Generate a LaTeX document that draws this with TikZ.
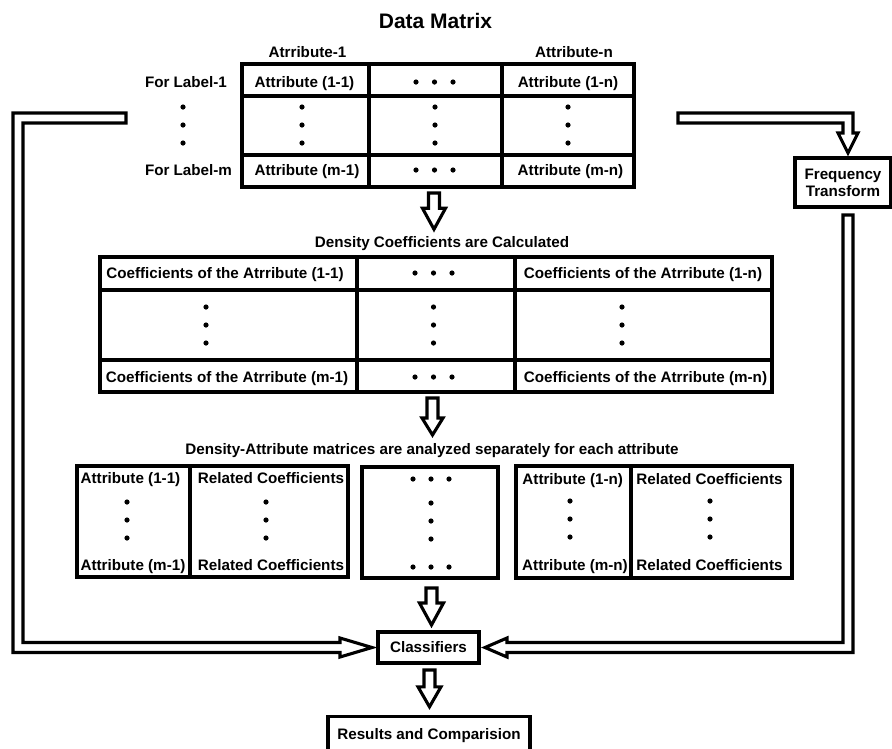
\documentclass[tikz,border=0pt]{standalone}
\usepackage{fontspec}
\setmainfont{Liberation Sans}
\usetikzlibrary{calc,fit}
\tikzset{
  cellbox/.style={draw, line width=3.3pt, inner sep=0pt, outer sep=0pt},
  boxnode/.style={draw, line width=3.3pt, inner sep=0pt, outer sep=0pt, align=center},
  txt/.style={anchor=base, inner sep=0pt, outer sep=0pt},
  blk/.style={draw, line width=3.1pt, line join=miter, fill=white},
  every node/.style={font=\bfseries\fontsize{15.2}{16.7}\selectfont, text=black}
}
\newcommand\mkcell[5]{\node[cellbox, fit={(#2,#3) (#4,#5)}] (#1) {};}
\newcommand\dotcol[4]{\foreach \yy in {#2,#3,#4} {\fill (#1,\yy) circle[radius=2.6pt];}}
\newcommand\dotrow[4]{\foreach \xx in {#2,#3,#4} {\fill (\xx,#1) circle[radius=2.6pt];}}
% #1 start, #2 tip, #3 head length, #4 head half width
\newcommand\downblock[4]{%
  \draw[blk] let \p1=(#1), \p2=(#2) in
   (\x1-5.5pt,\y1) -- (\x1+5.5pt,\y1) -- (\x1+5.5pt,\y2+#3pt) -- (\x1+#4pt,\y2+#3pt)
   -- (\x1,\y2) -- (\x1-#4pt,\y2+#3pt) -- (\x1-5.5pt,\y2+#3pt) -- cycle;}
\begin{document}
\begin{tikzpicture}[x=1pt,y=-1pt]
\useasboundingbox (0,0) rectangle (892,748);

% ---------- Data matrix ----------
\node[txt, font=\bfseries\fontsize{21}{24}\selectfont] (title) at (435.5,28.3) {Data Matrix};
\node[txt] (h1) at (307.5,57.3) {Atrribute-1};
\node[txt] (hn) at (574,57.3) {Attribute-n};
\node[txt, anchor=base west] (fl1) at (145,87.3) {For Label-1};
\node[txt, anchor=base west] (flm) at (145,175) {For Label-m};
\dotcol{183}{107}{125}{143}

\mkcell{dm11}{242}{64}{369}{96}
\mkcell{dm12}{369}{64}{502}{96}
\mkcell{dm13}{502}{64}{634}{96}
\mkcell{dm21}{242}{96}{369}{155}
\mkcell{dm22}{369}{96}{502}{155}
\mkcell{dm23}{502}{96}{634}{155}
\mkcell{dm31}{242}{155}{369}{187}
\mkcell{dm32}{369}{155}{502}{187}
\mkcell{dm33}{502}{155}{634}{187}

\node[txt] (a11) at (304.5,87.3) {Attribute (1-1)};
\node[txt] (a1n) at (568,87.3) {Attribute (1-n)};
\node[txt] (am1) at (307,175.5) {Attribute (m-1)};
\node[txt] (amn) at (570.5,175.5) {Attribute (m-n)};
\dotrow{82}{416}{434.5}{453}
\dotrow{170}{416}{434.5}{453}
\dotcol{302}{107}{125}{143}
\dotcol{435}{107}{125}{143}
\dotcol{568}{107}{125}{143}

% ---------- Coefficients ----------
\node[txt] (dct) at (442,247.3) {Density Coefficients are Calculated};
\mkcell{ct11}{100}{257}{357}{290}
\mkcell{ct12}{357}{257}{515}{290}
\mkcell{ct13}{515}{257}{772}{290}
\mkcell{ct21}{100}{290}{357}{360}
\mkcell{ct22}{357}{290}{515}{360}
\mkcell{ct23}{515}{290}{772}{360}
\mkcell{ct31}{100}{360}{357}{392}
\mkcell{ct32}{357}{360}{515}{392}
\mkcell{ct33}{515}{360}{772}{392}
\node[txt] (c11) at (225,278.3) {Coefficients of the Atrribute (1-1)};
\node[txt] (c1n) at (643,278.3) {Coefficients of the Atrribute (1-n)};
\node[txt] (cm1) at (227,382.7) {Coefficients of the Atrribute (m-1)};
\node[txt] (cmn) at (645.5,382.7) {Coefficients of the Atrribute (m-n)};
\dotrow{273}{415}{433.5}{452}
\dotrow{377}{415}{433.5}{452}
\dotcol{206}{307}{325}{343}
\dotcol{433.5}{307}{325}{343}
\dotcol{622}{307}{325}{343}

% ---------- Density-attribute matrices ----------
\node[txt] (dat) at (432,454) {Density-Attribute matrices are analyzed separately for each attribute};
\mkcell{dal1}{77}{466}{190}{577}
\mkcell{dal2}{190}{466}{348}{577}
\mkcell{dam}{362}{467}{498}{578}
\mkcell{dar1}{516}{466}{631}{578}
\mkcell{dar2}{631}{466}{792}{578}
\node[txt] (l11) at (130.5,483.3) {Attribute (1-1)};
\node[txt] (lm1) at (133,570) {Attribute (m-1)};
\node[txt] (lr1) at (271,483.3) {Related Coefficients};
\node[txt] (lr2) at (271,570) {Related Coefficients};
\node[txt] (r1n) at (572.7,484) {Attribute (1-n)};
\node[txt] (rmn) at (575,570.5) {Attribute (m-n)};
\node[txt] (rr1) at (709.5,484) {Related Coefficients};
\node[txt] (rr2) at (709.5,570.5) {Related Coefficients};
\dotcol{127}{502}{520}{538}
\dotcol{266}{502}{520}{538}
\dotcol{570}{501}{519}{537}
\dotcol{710}{501}{519}{537}
\dotrow{479}{413}{431}{449}
\dotcol{431}{503}{521}{539}
\dotrow{567}{413}{431}{449}

% ---------- Boxes ----------
\node[boxnode, minimum width=96pt, minimum height=49pt] (ft) at (843,182.5) {Frequency\\Transform};
\node[boxnode, minimum width=101pt, minimum height=31pt] (cls) at (428.5,647.5) {Classifiers};
\node[boxnode, minimum width=202pt, minimum height=34pt, text depth=0pt] (res) at (429,733.8) {Results and Comparision};

% ---------- Down block arrows ----------
\downblock{$(dm32.south)+(-1.5,6)$}{$(dct.north)+(0,-7)$}{21}{11.5}
\downblock{$(ct32.south)+(-3.5,6)$}{$(dat.north)+(0,-8)$}{17}{10.5}
\downblock{$(dam.south)+(1.5,10)$}{$(cls.north)+(0,-7)$}{22}{12}
\downblock{$(cls.south)+(1,7)$}{$(res.north)+(0,-10)$}{20}{11.5}

% ---------- Left channel to classifiers ----------
\coordinate (ls) at (126,118);
\coordinate (lb) at (18,118);
\coordinate (lc) at (lb |- cls.west);
\coordinate (ltip) at ($(cls.west)+(-6,0)$);
\draw[blk] ($(ls)+(0,-5)$) -- ($(lb)+(-5,-5)$) -- ($(lc)+(-5,5)$) -- ($(ltip)+(-32,5)$)
  -- ($(ltip)+(-32,9.5)$) -- (ltip) -- ($(ltip)+(-32,-9.5)$) -- ($(ltip)+(-32,-5)$)
  -- ($(lc)+(5,-5)$) -- ($(lb)+(5,5)$) -- ($(ls)+(0,5)$) -- cycle;

% ---------- Right channel: frequency transform to classifiers ----------
\coordinate (rs) at ($(ft.south)+(5,8)$);
\coordinate (rc) at (rs |- cls.east);
\coordinate (rtip) at ($(cls.east)+(6,0)$);
\draw[blk] ($(rs)+(-5,0)$) -- ($(rs)+(5,0)$) -- ($(rc)+(5,5)$) -- ($(rtip)+(22,5)$)
  -- ($(rtip)+(22,9.5)$) -- (rtip) -- ($(rtip)+(22,-9.5)$) -- ($(rtip)+(22,-5)$)
  -- ($(rc)+(-5,-5)$) -- cycle;

% ---------- Top channel: data matrix to frequency transform ----------
\coordinate (ts) at (678,118);
\coordinate (tc) at (rs |- ts);
\coordinate (ftn) at (rs |- ft.north);
\coordinate (ttip) at ($(ftn)+(0,-5)$);
\draw[blk] ($(ts)+(0,-5)$) -- ($(tc)+(5,-5)$) -- ($(ttip)+(5,-20)$) -- ($(ttip)+(10,-20)$)
  -- (ttip) -- ($(ttip)+(-10,-20)$) -- ($(ttip)+(-5,-20)$) -- ($(tc)+(-5,5)$)
  -- ($(ts)+(0,5)$) -- cycle;
\end{tikzpicture}
\end{document}
